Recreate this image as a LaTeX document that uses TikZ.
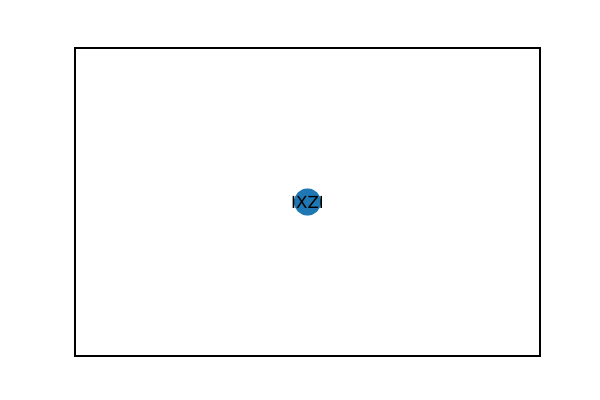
\documentclass[tikz,border=0pt]{standalone}
\usepackage{fontspec}
\setmainfont{DejaVu Sans}
\definecolor{mplblue}{HTML}{1F77B4}
\tikzset{
  graphnode/.style={circle, fill=mplblue, draw=none, minimum size=27.1*0.7227pt, inner sep=0pt},
  nodelabel/.style={font=\fontsize{12}{14}\selectfont, text=black, inner sep=0pt},
  frame/.style={draw=black, line width=0.8pt}
}
\begin{document}
\begin{tikzpicture}[x=0.7227pt, y=-0.7227pt]
\useasboundingbox (0,0) rectangle (600,400);
\draw[frame] (75,48) rectangle (540,356);
\node[graphnode] (n) at (307.5,202) {};
\node[nodelabel] (t) at (n.center) {IXZI};
\end{tikzpicture}
\end{document}
